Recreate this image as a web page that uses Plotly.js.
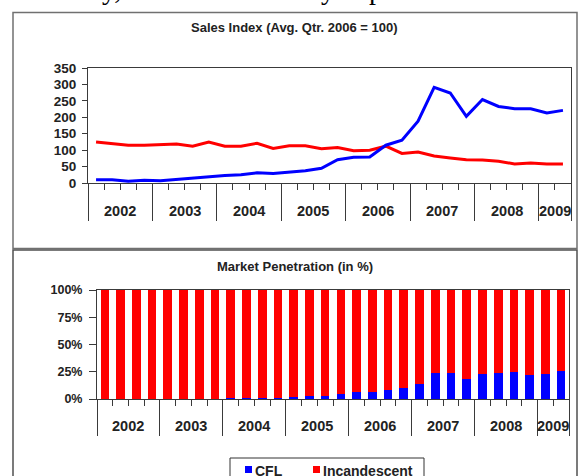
<!DOCTYPE html>
<html>
<head>
<meta charset="utf-8">
<script src="https://cdn.plot.ly/plotly-3.0.1.min.js"></script>
<style>html,body{margin:0;padding:0;background:#fff;}#chart{width:584px;height:476px;}</style>
</head>
<body>
<div id="chart"></div>
<script>
// ---- data ----
const quarters = [
  '2002 Q1','2002 Q2','2002 Q3','2002 Q4',
  '2003 Q1','2003 Q2','2003 Q3','2003 Q4',
  '2004 Q1','2004 Q2','2004 Q3','2004 Q4',
  '2005 Q1','2005 Q2','2005 Q3','2005 Q4',
  '2006 Q1','2006 Q2','2006 Q3','2006 Q4',
  '2007 Q1','2007 Q2','2007 Q3','2007 Q4',
  '2008 Q1','2008 Q2','2008 Q3','2008 Q4',
  '2009 Q1','2009 Q2'
];
const years = ['2002','2003','2004','2005','2006','2007','2008','2009'];
const seriesNames = ['CFL','Incandescent'];

const cflSalesIndex = [10,10,5,8, 7,11,15,20, 23,25,31,29, 34,37,45,71, 78,79,115,130, 188,291,274,203, 254,233,226,226, 213,221];
const incSalesIndex = [125,119,115,115, 117,119,112,125, 112,112,121,105, 113,113,104,108, 98,100,112,90, 94,82,76,71, 70,66,58,61, 58,58];

const cflShare = [0,0,0,0, 0,0,0,0, 1,1,1,1, 2,3,3,5, 6,6,8,10, 14,24,23.5,18, 22.5,24,25,22, 22.5,26];
const incShare = [100,100,100,100, 100,100,100,100, 99,99,99,99, 98,97,97,95, 94,94,92,90, 86,76,76.5,82, 77.5,76,75,78, 77.5,74];

const title1 = 'Sales Index (Avg. Qtr. 2006 = 100)';
const title2 = 'Market Penetration (in %)';
const docFragments = ['y,', 'y', 'p'];

const yTicks1 = [0,50,100,150,200,250,300,350];
const yTicks2 = [0,25,50,75,100];
const yTickText2 = ['0%','25%','50%','75%','100%'];

// ---- derived from data ----
const xPos = quarters.map((q, i) => i + 0.5);
const yearOf = quarters.map(q => q.split(' ')[0]);
const boundaries = [];
quarters.forEach((q, i) => { if (q.endsWith('Q1')) boundaries.push(i); });
boundaries.push(quarters.length);
const yearCenters = years.map(y => {
  const idx = yearOf.map((v, i) => v === y ? i + 0.5 : null).filter(v => v !== null);
  return idx.reduce((a, b) => a + b, 0) / idx.length;
});

// ---- pixel helpers (margins are zero) ----
const W = 584, H = 476;
const px = v => v / W;
const py = v => 1 - v / H;

const FONT = 'Liberation Sans, Arial, sans-serif';
const SERIF = 'Liberation Serif, Times New Roman, serif';
const AX = '#3a3a3a';

function xAxisCfg(l, r, anchor, longLen) {
  return {
    domain: [px(l), px(r)], range: [0, quarters.length], anchor: anchor,
    showgrid: false, zeroline: false, showline: true, mirror: true,
    linecolor: AX, linewidth: 1,
    tickmode: 'array', tickvals: boundaries, ticks: 'outside', ticklen: longLen,
    tickcolor: AX, tickwidth: 1, showticklabels: false,
    minor: {tickmode: 'linear', tick0: 0, dtick: 1, ticks: 'outside', ticklen: 6, tickcolor: AX, tickwidth: 1},
    fixedrange: true
  };
}

const traces = [
  {x: xPos, y: incSalesIndex, name: seriesNames[1], type: 'scatter', mode: 'lines',
   line: {color: '#FF0000', width: 3}, xaxis: 'x', yaxis: 'y', showlegend: false},
  {x: xPos, y: cflSalesIndex, name: seriesNames[0], type: 'scatter', mode: 'lines',
   line: {color: '#0000FF', width: 3}, xaxis: 'x', yaxis: 'y', showlegend: false},
  {x: xPos, y: cflShare, name: seriesNames[0], type: 'bar', marker: {color: '#0000FF', line: {width: 0}},
   xaxis: 'x2', yaxis: 'y2', showlegend: false},
  {x: xPos, y: incShare, name: seriesNames[1], type: 'bar', marker: {color: '#FF0000', line: {width: 0}},
   xaxis: 'x2', yaxis: 'y2', showlegend: false}
];

function ann(text, x, y, opts) {
  return Object.assign({text: text, x: x, y: y, xref: 'paper', yref: 'paper',
    xanchor: 'center', yanchor: 'middle', showarrow: false,
    font: {family: FONT, size: 13, color: '#222'}}, opts || {});
}

const annotations = [
  ann('<b>' + title1 + '</b>', px(294), py(27)),
  ann('<b>' + title2 + '</b>', px(295), py(266)),
  // clipped fragments of the document text line above the chart
  ann(docFragments[0], px(111), py(7), {yanchor: 'bottom', font: {family: SERIF, size: 28, color: '#000'}}),
  ann(docFragments[1], px(328), py(7), {yanchor: 'bottom', font: {family: SERIF, size: 28, color: '#000'}}),
  ann(docFragments[2], px(376), py(7), {yanchor: 'bottom', font: {family: SERIF, size: 28, color: '#000'}}),
  // legend texts
  ann('<b>' + seriesNames[0] + '</b>', px(253), py(471), {xanchor: 'left', font: {family: FONT, size: 14, color: '#222'}}),
  ann('<b>' + seriesNames[1] + '</b>', px(321), py(471), {xanchor: 'left', font: {family: FONT, size: 14, color: '#222'}})
];
// year labels for both charts
years.forEach((y, i) => {
  annotations.push(ann('<b>' + y + '</b>', yearCenters[i], py(211), {xref: 'x', font: {family: FONT, size: 14.5, color: '#222'}}));
  annotations.push(ann('<b>' + y + '</b>', yearCenters[i], py(426), {xref: 'x2', font: {family: FONT, size: 14.5, color: '#222'}}));
});

const shapes = [
  // panel frames
  {type: 'rect', xref: 'paper', yref: 'paper', x0: px(13), x1: px(577), y0: py(248.5), y1: py(12.5),
   line: {color: '#707070', width: 1.5}},
  {type: 'rect', xref: 'paper', yref: 'paper', x0: px(13), x1: px(577), y0: py(495), y1: py(250),
   line: {color: '#505050', width: 1.5}},
  // legend box
  {type: 'rect', xref: 'paper', yref: 'paper', x0: px(230), x1: px(424), y0: py(495), y1: py(458),
   line: {color: '#333', width: 1}, fillcolor: '#fff'},
  {type: 'rect', xref: 'paper', yref: 'paper', x0: px(245), x1: px(252), y0: py(473), y1: py(466),
   line: {width: 0}, fillcolor: '#0000FF'},
  {type: 'rect', xref: 'paper', yref: 'paper', x0: px(313), x1: px(320), y0: py(473), y1: py(466),
   line: {width: 0}, fillcolor: '#FF0000'}
];

const layout = {
  width: W, height: H,
  margin: {l: 0, r: 0, t: 0, b: 0, pad: 0},
  paper_bgcolor: '#fff', plot_bgcolor: '#fff',
  showlegend: false,
  barmode: 'stack', bargap: 0.45,
  font: {family: FONT, color: '#222'},
  xaxis: xAxisCfg(88, 571, 'y', 37),
  yaxis: {
    domain: [py(183), py(68)], range: [0, 350], anchor: 'x',
    tickmode: 'array', tickvals: yTicks1, ticks: 'outside', ticklen: 5, tickcolor: AX,
    showline: true, mirror: true, linecolor: AX, linewidth: 1,
    showgrid: false, zeroline: false, ticklabelstandoff: 3,
    tickfont: {family: FONT, size: 13.5, color: '#222', weight: 'bold'}, fixedrange: true
  },
  xaxis2: xAxisCfg(97, 569, 'y2', 36),
  yaxis2: {
    domain: [py(399), py(290)], range: [0, 100], anchor: 'x2',
    tickmode: 'array', tickvals: yTicks2, ticktext: yTickText2, ticks: 'outside', ticklen: 7, tickcolor: AX,
    showline: true, mirror: true, linecolor: AX, linewidth: 1,
    showgrid: false, zeroline: false, ticklabelstandoff: 4,
    tickfont: {family: FONT, size: 12.5, color: '#222', weight: 'bold'}, fixedrange: true
  },
  annotations: annotations,
  shapes: shapes
};

Plotly.newPlot('chart', traces, layout, {staticPlot: true, displayModeBar: false});
</script>
</body>
</html>
